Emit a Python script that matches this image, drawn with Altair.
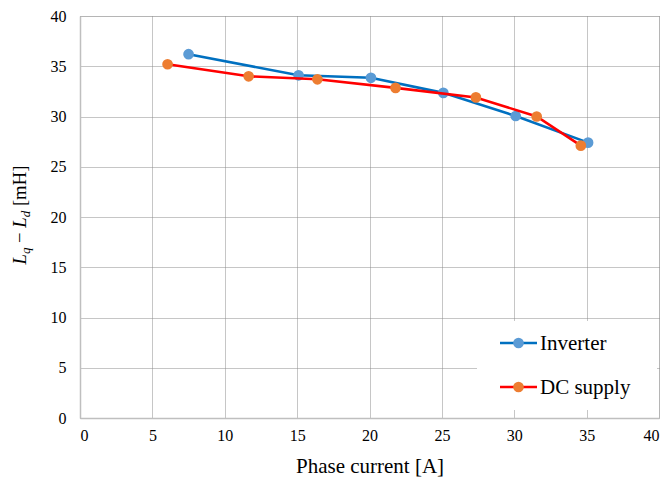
import altair as alt
import pandas as pd

# ---- data ----
series_names = ["Inverter", "DC supply"]
inv_current = [7.5, 15.1, 20.1, 25.1, 30.1, 35.1]
inv_ldiff = [36.2, 34.1, 33.85, 32.35, 30.05, 27.4]
dc_current = [6.05, 11.65, 16.4, 21.8, 27.35, 31.55, 34.6]
dc_ldiff = [35.2, 34.0, 33.7, 32.85, 31.9, 30.0, 27.1]
x_ticks = [0, 5, 10, 15, 20, 25, 30, 35, 40]
y_ticks = [0, 5, 10, 15, 20, 25, 30, 35, 40]

line_colors = {"Inverter": "#0070C0", "DC supply": "#FF0000"}
marker_colors = {"Inverter": "#5B9BD5", "DC supply": "#ED7D31"}

FONT = "Liberation Serif"
PAD_TOP = 8
PLOT_TOP = 8 + PAD_TOP           # page margin + padding
W, H = 579, 418 - PLOT_TOP

inv_df = pd.DataFrame({"current": inv_current, "ldiff": inv_ldiff, "series": series_names[0]})
dc_df = pd.DataFrame({"current": dc_current, "ldiff": dc_ldiff, "series": series_names[1]})

xscale = alt.Scale(domain=[0, 40], nice=False, zero=True)
yscale = alt.Scale(domain=[0, 40], nice=False, zero=True)

x_axis = alt.Axis(values=x_ticks, title="Phase current [A]", ticks=False,
                  labelPadding=9, titlePadding=12, labelFontSize=16,
                  titleFontSize=21, labelFont=FONT, titleFont=FONT,
                  labelColor="#000", titleColor="#000", titleFontWeight="normal",
                  domainColor="#bfbfbf", domainWidth=1.5,
                  grid=True, gridColor="#8c8c8c", gridDash=[1, 1], gridWidth=1)
y_axis = alt.Axis(values=y_ticks, title=None, ticks=False,
                  labelPadding=14, labelFontSize=16, labelFont=FONT,
                  labelColor="#000", domainColor="#bfbfbf", domainWidth=1.5,
                  grid=True, gridColor="#8c8c8c", gridDash=[1, 1], gridWidth=1)


def series_layers(df, name):
    base = alt.Chart(df).encode(
        x=alt.X("current:Q", scale=xscale, axis=x_axis),
        y=alt.Y("ldiff:Q", scale=yscale, axis=y_axis),
    )
    line = base.mark_line(color=line_colors[name], strokeWidth=2.6)
    pts = base.mark_point(filled=True, color=marker_colors[name], size=115, opacity=1)
    return [line, pts]


one = pd.DataFrame({"k": [0]})

# ---- legend (inside plot, lower right); positions in page pixels minus plot origin ----
def ry(v):
    return v - PLOT_TOP


legend_bg = alt.Chart(one).mark_rect(color="white").encode(
    x=alt.value(397), x2=alt.value(577), y=alt.value(ry(321)), y2=alt.value(ry(410)))

legend_layers = [legend_bg]
for i, name in enumerate(series_names):
    yy = ry(343 + i * 44)
    legend_layers.append(alt.Chart(one).mark_rule(color=line_colors[name], strokeWidth=2.6).encode(
        x=alt.value(420), x2=alt.value(457), y=alt.value(yy)))
    legend_layers.append(alt.Chart(one).mark_point(filled=True, color=marker_colors[name], size=115, opacity=1).encode(
        x=alt.value(438.5), y=alt.value(yy)))
    legend_layers.append(alt.Chart(one).mark_text(text=name, font=FONT, fontSize=21, align="left",
                                                   baseline="middle", color="#000").encode(
        x=alt.value(460), y=alt.value(yy + 1)))

# ---- y-axis title with italic subscripts: L_q − L_d [mH] (page y of each piece's start) ----
title_pieces = [
    ("L", 18.7, "italic", -54, 264.5),
    ("q", 13, "italic", -50, 254.1),
    ("\u2212", 18.7, "normal", -54, 242.9),
    ("L", 18.7, "italic", -54, 227.7),
    ("d", 13, "italic", -50, 217.3),
    ("[mH]", 18.7, "normal", -54, 206.1),
]
title_layers = []
for txt, fs, style, xx, yy in title_pieces:
    title_layers.append(alt.Chart(one).mark_text(text=txt, font=FONT, fontSize=fs, fontStyle=style,
                                                  angle=270, align="left", baseline="alphabetic",
                                                  color="#000").encode(
        x=alt.value(xx), y=alt.value(ry(yy))))

layers = series_layers(inv_df, "Inverter") + series_layers(dc_df, "DC supply") + legend_layers + title_layers

chart = alt.layer(*layers).properties(
    width=W, height=H,
    autosize=alt.AutoSizeParams(type="none"),
    padding={"left": 72, "top": PAD_TOP, "right": 4, "bottom": 60},
).configure_view(stroke=None).configure(background="white")

chart.save("out.html", embed_options={"renderer": "svg", "actions": False})
